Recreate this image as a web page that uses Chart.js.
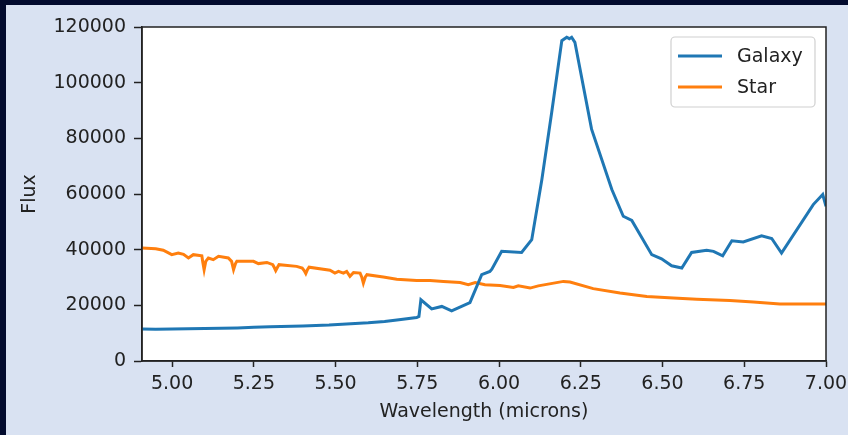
<!DOCTYPE html>
<html>
<head>
<meta charset="utf-8">
<script src="https://cdn.jsdelivr.net/npm/chart.js@4.4.1/dist/chart.umd.min.js"></script>
<style>
  html, body { margin: 0; padding: 0; background: #020b2e; }
  #wrap { position: absolute; left: 6px; top: 5px; width: 842px; height: 430px; background: #d9e2f2; }
</style>
</head>
<body>
<div id="wrap"><canvas id="spectrum" width="842" height="430"></canvas></div>
<script>
// wavelength (microns) / flux values
const galaxyWave = [4.908, 4.95, 5.00, 5.10, 5.20, 5.25, 5.30, 5.40, 5.48, 5.60, 5.65, 5.70, 5.748, 5.755, 5.761,
  5.794, 5.825, 5.855, 5.911, 5.947, 5.972, 5.978, 6.008, 6.069, 6.100, 6.131, 6.161, 6.192, 6.207, 6.215, 6.222,
  6.232, 6.283, 6.345, 6.380, 6.406, 6.467, 6.497, 6.528, 6.559, 6.589, 6.635, 6.656, 6.684, 6.712, 6.747, 6.803,
  6.834, 6.864, 6.961, 6.990, 7.00];
const galaxyFlux = [11500, 11400, 11500, 11700, 11900, 12100, 12300, 12600, 12900, 13700, 14200, 14900, 15600, 16000, 22000,
  18700, 19600, 18000, 21000, 31000, 32200, 33000, 39400, 39000, 43600, 65200, 89300, 115100, 116300, 115800, 116300,
  114500, 83300, 61600, 52000, 50500, 38200, 36700, 34200, 33400, 39000, 39800, 39400, 37800, 43200, 42800, 45000,
  44000, 38800, 56200, 59800, 55600];

const starWave = [4.908, 4.95, 4.973, 4.999, 5.019, 5.035, 5.050, 5.065, 5.091, 5.094, 5.098, 5.103, 5.111, 5.126, 5.142,
  5.172, 5.182, 5.188, 5.194, 5.198, 5.249, 5.264, 5.290, 5.308, 5.313, 5.317, 5.322, 5.327, 5.381, 5.398, 5.404,
  5.409, 5.414, 5.419, 5.483, 5.498, 5.509, 5.524, 5.534, 5.544, 5.555, 5.575, 5.580, 5.585, 5.591, 5.596, 5.646,
  5.687, 5.748, 5.789, 5.830, 5.881, 5.906, 5.927, 5.957, 6.003, 6.044, 6.059, 6.095, 6.120, 6.197, 6.217, 6.288,
  6.370, 6.452, 6.533, 6.605, 6.706, 6.778, 6.859, 7.00];
const starFlux = [40600, 40300, 39800, 38200, 38800, 38300, 37000, 38200, 37800, 35500, 32800, 35800, 37000, 36400, 37600,
  37000, 35800, 32800, 35000, 35800, 35800, 35000, 35400, 34600, 33500, 32500, 33600, 34600, 34000, 33400, 32500,
  31400, 32800, 33700, 32600, 31600, 32200, 31600, 32200, 30400, 31800, 31600, 30200, 28000, 30200, 31000, 30200,
  29400, 28900, 28900, 28600, 28200, 27400, 28200, 27400, 27100, 26400, 27000, 26200, 27000, 28600, 28400, 26000,
  24400, 23200, 22600, 22200, 21700, 21200, 20500, 20500];

const xTicks = [5.00, 5.25, 5.50, 5.75, 6.00, 6.25, 6.50, 6.75, 7.00];
const yTicks = [0, 20000, 40000, 60000, 80000, 100000, 120000];
const seriesNames = ['Galaxy', 'Star'];
const seriesColors = ['#1f77b4', '#ff7f0e'];

const FONT = "'DejaVu Sans', sans-serif";
const INK = '#222222';

function toPoints(xs, ys) {
  return xs.map((x, i) => ({ x: x, y: ys[i] }));
}

// white plot background, frame on all four sides, matplotlib style legend
const framePlugin = {
  id: 'frame',
  beforeDraw(chart) {
    const { ctx, chartArea: a } = chart;
    ctx.save();
    ctx.fillStyle = '#ffffff';
    ctx.fillRect(a.left, a.top, a.right - a.left, a.bottom - a.top);
    ctx.restore();
  },
  afterDatasetsDraw(chart) {
    const { ctx, chartArea: a } = chart;
    ctx.save();
    ctx.strokeStyle = INK;
    ctx.lineWidth = 1.5;
    ctx.strokeRect(a.left, a.top, a.right - a.left, a.bottom - a.top);

    // legend
    const w = 144, h = 70;
    const bx = a.right - 11 - w, by = a.top + 10;
    ctx.beginPath();
    ctx.roundRect(bx, by, w, h, 4);
    ctx.fillStyle = 'rgba(255,255,255,0.8)';
    ctx.fill();
    ctx.strokeStyle = '#d0d0d0';
    ctx.lineWidth = 1.2;
    ctx.stroke();
    ctx.font = '19px ' + FONT;
    ctx.textBaseline = 'middle';
    ctx.textAlign = 'left';
    seriesNames.forEach((name, i) => {
      const yy = by + 19 + i * 31;
      ctx.strokeStyle = seriesColors[i];
      ctx.lineWidth = 3;
      ctx.beginPath();
      ctx.moveTo(bx + 7, yy);
      ctx.lineTo(bx + 51, yy);
      ctx.stroke();
      ctx.fillStyle = INK;
      ctx.fillText(name, bx + 66, yy + 1);
    });
    ctx.restore();
  }
};

new Chart(document.getElementById('spectrum'), {
  type: 'line',
  data: {
    datasets: [
      { label: seriesNames[0], data: toPoints(galaxyWave, galaxyFlux), borderColor: seriesColors[0], borderWidth: 3, pointRadius: 0, tension: 0 },
      { label: seriesNames[1], data: toPoints(starWave, starFlux), borderColor: seriesColors[1], borderWidth: 3, pointRadius: 0, tension: 0 }
    ]
  },
  options: {
    responsive: false,
    animation: false,
    layout: { padding: { top: 22, right: 22, left: 0, bottom: 0 } },
    plugins: {
      legend: { display: false },
      tooltip: { enabled: false }
    },
    scales: {
      x: {
        type: 'linear',
        min: 4.908,
        max: 7.0,
        afterBuildTicks: (s) => { s.ticks = xTicks.map(v => ({ value: v })); },
        afterFit: (s) => { s.height = 74; s.paddingLeft = 0; s.paddingRight = 0; },
        ticks: {
          color: INK,
          font: { family: FONT, size: 19 },
          padding: 6,
          maxRotation: 0,
          callback: (v) => Number(v).toFixed(2)
        },
        grid: { drawOnChartArea: false, drawTicks: true, tickLength: 6, tickWidth: 1.5, tickColor: INK },
        border: { display: true, color: INK, width: 1.5 },
        title: {
          display: true,
          text: 'Wavelength (microns)',
          color: INK,
          font: { family: FONT, size: 19 },
          padding: { top: 0, bottom: 12 }
        }
      },
      y: {
        min: 0,
        max: 120000,
        afterBuildTicks: (s) => { s.ticks = yTicks.map(v => ({ value: v })); },
        afterFit: (s) => { s.width = 136; s.paddingTop = 0; s.paddingBottom = 0; },
        ticks: {
          color: INK,
          font: { family: FONT, size: 19 },
          padding: 8,
          callback: (v) => String(v)
        },
        grid: { drawOnChartArea: false, drawTicks: true, tickLength: 8, tickWidth: 1.5, tickColor: INK },
        border: { display: true, color: INK, width: 1.5 },
        title: {
          display: true,
          text: 'Flux',
          color: INK,
          font: { family: FONT, size: 19 },
          padding: { top: 13, bottom: 0 }
        }
      }
    }
  },
  plugins: [framePlugin]
});
</script>
</body>
</html>
